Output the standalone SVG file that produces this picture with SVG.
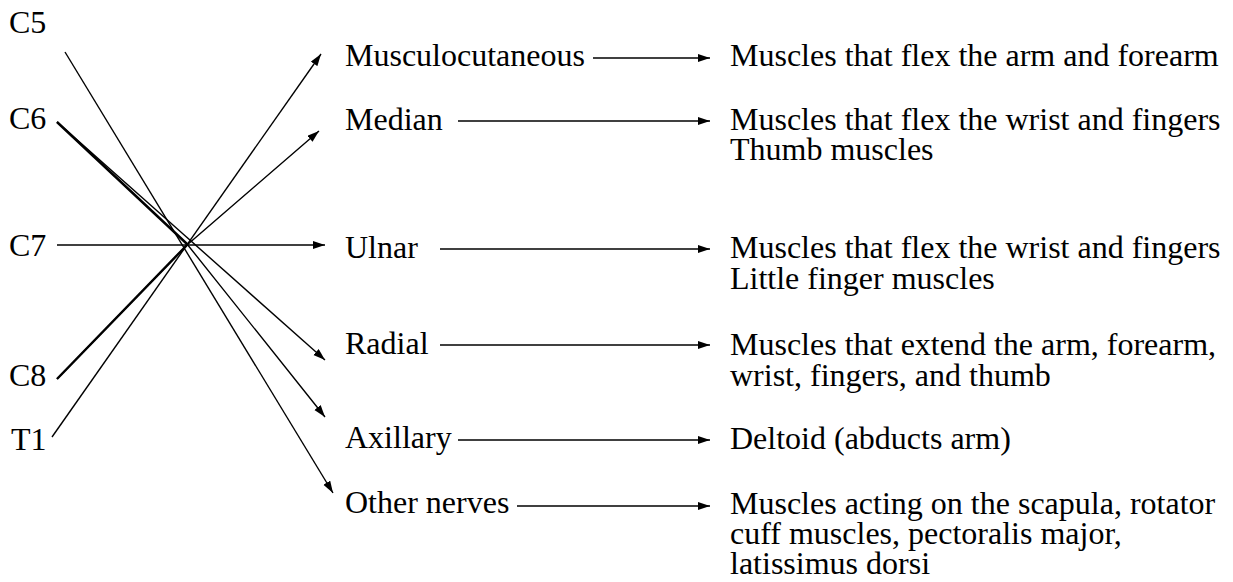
<svg xmlns="http://www.w3.org/2000/svg" width="1233" height="582" viewBox="0 0 1233 582">
<style>
text{font-family:"Liberation Serif","Times New Roman",serif;font-size:32px;fill:#000}
.ln{stroke:#000;stroke-width:1.4;fill:none}
.bd{stroke:#000;stroke-width:2.4;fill:none}
.ar{stroke:#000;stroke-width:1.6;fill:none;marker-end:url(#ah)}
</style>
<defs>
<marker id="ah" markerUnits="userSpaceOnUse" markerWidth="13" markerHeight="9" refX="12" refY="4" orient="auto">
<path d="M0,0 L12,4 L0,8 z" fill="#000"/>
</marker>
</defs>
<rect width="1233" height="582" fill="#fff"/>
<g id="roots">
<g id="c5"><text x="9" y="33">C5</text></g>
<g id="c6"><text x="9" y="129">C6</text></g>
<g id="c7"><text x="9" y="256">C7</text></g>
<g id="c8"><text x="9" y="386">C8</text></g>
<g id="t1"><text x="11" y="450">T1</text></g>
</g>
<g id="nerves">
<g id="musculocutaneous"><text x="345" y="66">Musculocutaneous</text></g>
<g id="median"><text x="345" y="130">Median</text></g>
<g id="ulnar"><text x="345" y="258">Ulnar</text></g>
<g id="radial"><text x="345" y="354">Radial</text></g>
<g id="axillary"><text x="345" y="448">Axillary</text></g>
<g id="other"><text x="345" y="513">Other nerves</text></g>
</g>
<g id="targets">
<g id="t-musc"><text x="730" y="66">Muscles that flex the arm and forearm</text></g>
<g id="t-median"><text x="730" y="130">Muscles that flex the wrist and fingers</text><text x="730" y="160">Thumb muscles</text></g>
<g id="t-ulnar"><text x="730" y="258">Muscles that flex the wrist and fingers</text><text x="730" y="289">Little finger muscles</text></g>
<g id="t-radial"><text x="730" y="355">Muscles that extend the arm, forearm,</text><text x="730" y="386">wrist, fingers, and thumb</text></g>
<g id="t-axillary"><text x="730" y="449">Deltoid (abducts arm)</text></g>
<g id="t-other"><text x="730" y="514">Muscles acting on the scapula, rotator</text><text x="730" y="544">cuff muscles, pectoralis major,</text><text x="730" y="574">latissimus dorsi</text></g>
</g>
<g id="connectors">
<line class="ln" x1="65" y1="52" x2="333" y2="493" marker-end="url(#ah)"/>
<line class="ln" x1="57" y1="122" x2="325" y2="360" marker-end="url(#ah)"/>
<polyline class="ln" points="57,122 187,244 325,417" marker-end="url(#ah)"/>
<line class="bd" x1="57" y1="122" x2="187" y2="244"/>
<line class="ln" x1="57" y1="245" x2="325" y2="245" marker-end="url(#ah)"/>
<polyline class="ln" points="57,379 187,245 319,131" marker-end="url(#ah)"/>
<line class="bd" x1="57" y1="379" x2="187" y2="245"/>
<line class="ln" x1="52" y1="437" x2="321" y2="54" marker-end="url(#ah)"/>
<line class="ar" x1="593" y1="58" x2="710" y2="58"/>
<line class="ar" x1="458" y1="121" x2="710" y2="121"/>
<line class="ar" x1="440" y1="249" x2="710" y2="249"/>
<line class="ar" x1="440" y1="345" x2="710" y2="345"/>
<line class="ar" x1="458" y1="440" x2="710" y2="440"/>
<line class="ar" x1="517" y1="506" x2="710" y2="506"/>
</g>
</svg>
